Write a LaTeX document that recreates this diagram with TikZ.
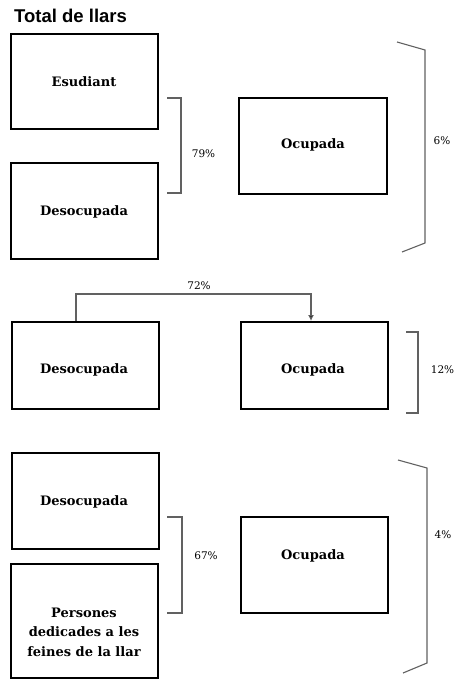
\documentclass[tikz,border=0pt]{standalone}
\usepackage{fontspec}
\setmainfont{DejaVu Serif}
\newfontfamily\titlefont{Liberation Sans}
\usetikzlibrary{arrows.meta,calc}
\tikzset{
  box/.style={draw=black, line width=2pt, rectangle, inner sep=0pt},
  lbl/.style={font=\bfseries\fontsize{13}{19.5}\selectfont, align=center, inner sep=0pt},
  pct/.style={font=\fontsize{10.5}{12}\selectfont, inner sep=0pt},
  brk/.style={draw=black!62, line width=1.1pt},
  arr/.style={draw=black!62, line width=1.1pt, -{Latex[length=6pt,width=6pt,fill=black]}}
}
\begin{document}
\begin{tikzpicture}[x=1pt,y=-1pt]
\useasboundingbox (0,0) rectangle (456,679);
\node[font=\titlefont\bfseries\fontsize{18.5}{20}\selectfont, anchor=base west, inner sep=0pt] (title) at (14,23) {Total de llars};
% section 1
\node[box, minimum width=147pt, minimum height=95pt] (b1) at (84.5,81.5) {};
\node[box, minimum width=147pt, minimum height=96pt] (b2) at (84.5,211) {};
\node[box, minimum width=148pt, minimum height=96pt] (o1) at (313,146) {};
\node[lbl] (b1t) at (84,82) {Esudiant};
\node[lbl] (b2t) at (84,212) {Desocupada};
\node[lbl] (o1t) at (313,145) {Ocupada};
\draw[brk] (167,98) -- (181,98) -- (181,193) -- (167,193);
\node[pct] (p79) at (203.5,154) {79\%};
\draw[brk] (397,42) -- (425,50) -- (425,243) -- (402,252);
\node[pct] (p6) at (442,141) {6\%};
% section 2
\node[box, minimum width=147pt, minimum height=87pt] (d2) at (85.5,365.5) {};
\node[box, minimum width=147pt, minimum height=87pt] (o2) at (314.5,365.5) {};
\node[lbl] (d2t) at (84,370) {Desocupada};
\node[lbl] (o2t) at (313,370) {Ocupada};
\coordinate (a1) at (76,294);
\coordinate (a2) at (311,294);
\draw[arr] (d2.north -| a1) -- (a1) -- (a2) -- (o2.north -| a2);
\node[pct] (p72) at (199,286) {72\%};
\draw[brk] (406,332) -- (418,332) -- (418,413) -- (406,413);
\node[pct] (p12) at (442.5,370) {12\%};
% section 3
\node[box, minimum width=147pt, minimum height=96pt] (d3) at (85.5,501) {};
\node[box, minimum width=147pt, minimum height=114pt] (p3) at (84.5,620.5) {};
\node[box, minimum width=147pt, minimum height=96pt] (o3) at (314.5,565) {};
\node[lbl] (d3t) at (84,502) {Desocupada};
\node[lbl] (p3t) at (84,632) {Persones\\dedicades a les\\feines de la llar};
\node[lbl] (o3t) at (313,556) {Ocupada};
\draw[brk] (167,517) -- (182,517) -- (182,613) -- (167,613);
\node[pct] (p67) at (206,556) {67\%};
\draw[brk] (398,460) -- (427,468) -- (427,663) -- (403,673);
\node[pct] (p4) at (443,535) {4\%};
\end{tikzpicture}
\end{document}
